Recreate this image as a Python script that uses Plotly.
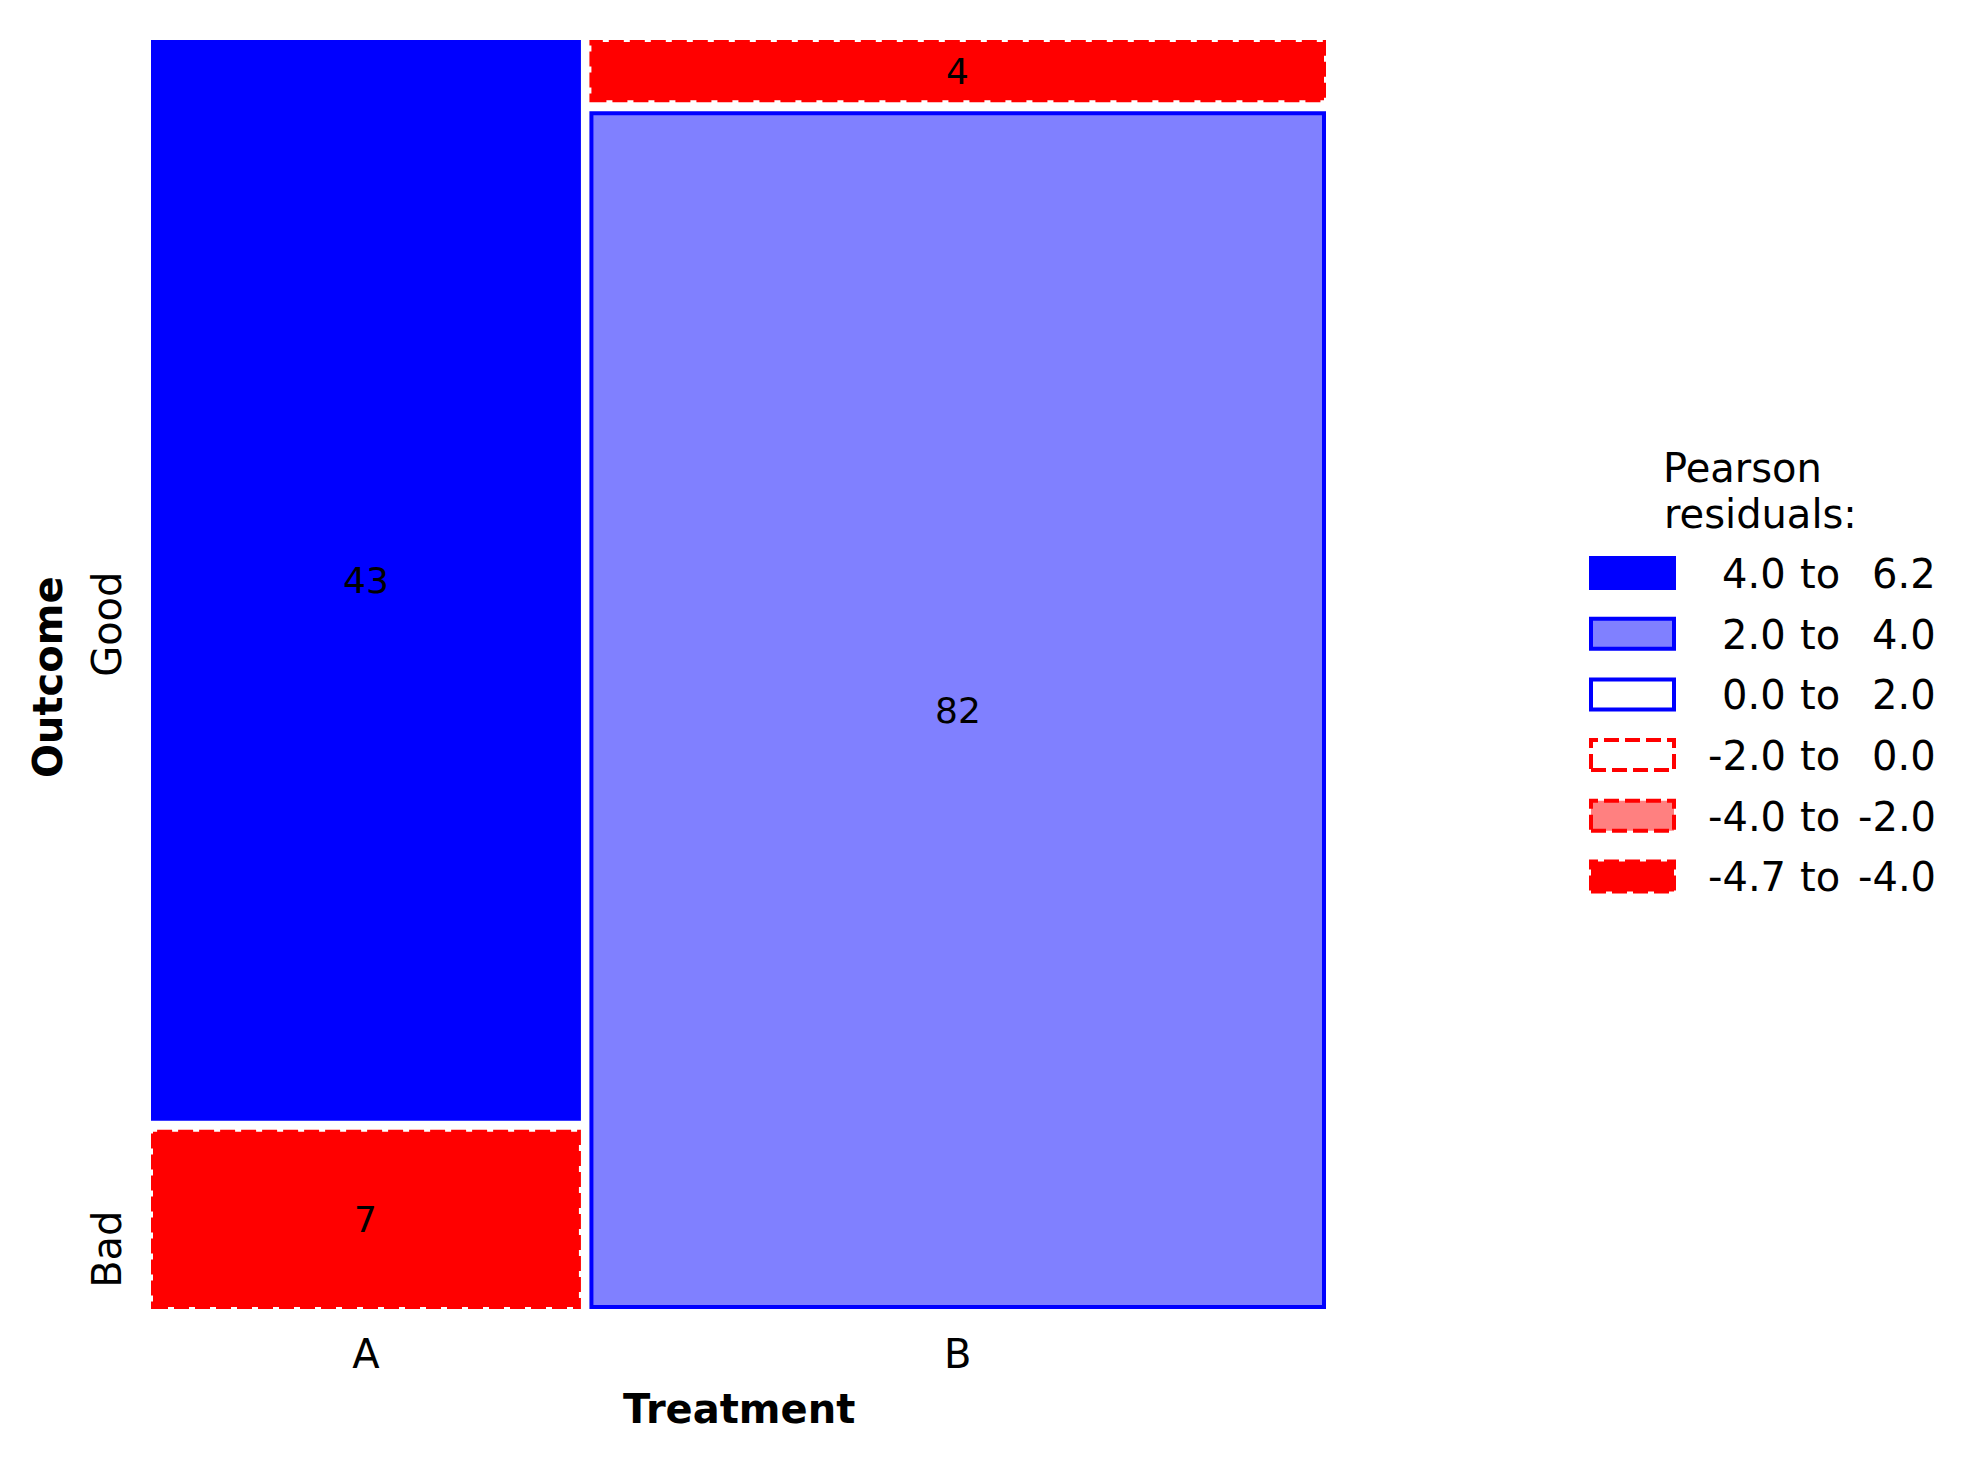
import math
import plotly.graph_objects as go

# ---------------- data ----------------
treatments = ["A", "B"]
outcomes = ["Good", "Bad"]          # top to bottom within each column
counts_good = [43, 4]
counts_bad = [7, 82]

x_title = "Treatment"
y_title = "Outcome"
legend_title_lines = ["Pearson", "residuals:"]
inner_breaks = [-4.0, -2.0, 0.0, 2.0, 4.0]

# ---------------- styles ----------------
FONT = "DejaVu Sans, Verdana, sans-serif"
BLUE, LBLUE, RED, LRED, WHITE = "#0000FF", "#8080FF", "#FF0000", "#FF8080", "#FFFFFF"
# bin index 0 (lowest) .. 5 (highest)
bin_fill = [RED, LRED, WHITE, WHITE, LBLUE, BLUE]
bin_line = [RED, RED, RED, BLUE, BLUE, BLUE]
bin_dash = ["15px,6px"] * 3 + ["solid"] * 3
LW = 4

# pixel layout
W, H = 1984, 1462
PL, PR, PT, PB = 147, 1330, 36, 1313
PW, PH = PR - PL, PB - PT
CW, CH = 1171, 1265              # content span (px)
pad_x, pad_y = 6 / CW, 6 / CH
gx, gy = 12.5 / CW, 13 / CH


def pxx(px):
    return (px - PL) / PW


def pxy(py):
    return (PB - py) / PH


# ---------------- residuals ----------------
table = [[counts_good[j], counts_bad[j]] for j in range(len(treatments))]  # col j, row i
col_tot = [sum(c) for c in table]
row_tot = [sum(table[j][i] for j in range(len(treatments))) for i in range(len(outcomes))]
N = sum(col_tot)
resid = [[(table[j][i] - col_tot[j] * row_tot[i] / N) / math.sqrt(col_tot[j] * row_tot[i] / N)
          for i in range(len(outcomes))] for j in range(len(treatments))]
rmin = min(min(r) for r in resid)
rmax = max(max(r) for r in resid)
breaks = [rmin] + inner_breaks + [rmax]


def bin_of(r):
    for k in range(len(breaks) - 1):
        if r <= breaks[k + 1]:
            return k
    return len(breaks) - 2


shapes, annotations = [], []
tickvals = []

# ---------------- mosaic cells ----------------
avail_w = 1 - gx * (len(treatments) - 1)
avail_h = 1 - gy * (len(outcomes) - 1)
x0 = 0.0
ycenters_first = []
for j, t in enumerate(treatments):
    w = avail_w * col_tot[j] / N
    x1 = x0 + w
    tickvals.append((x0 + x1) / 2)
    ytop = 1.0
    for i, o in enumerate(outcomes):
        h = avail_h * table[j][i] / col_tot[j]
        ybot = ytop - h
        b = bin_of(resid[j][i])
        shapes.append(dict(type="rect", xref="x", yref="y", x0=x0, x1=x1, y0=ybot, y1=ytop,
                           fillcolor=bin_fill[b],
                           line=dict(color=bin_line[b], width=LW, dash=bin_dash[b]),
                           layer="above"))
        annotations.append(dict(xref="x", yref="y", x=(x0 + x1) / 2, y=(ybot + ytop) / 2,
                                text=str(table[j][i]), showarrow=False,
                                font=dict(family=FONT, size=36, color="black")))
        if j == 0:
            ycenters_first.append((ybot + ytop) / 2)
        ytop = ybot - gy
    x0 = x1 + gx

# y tick labels (rotated)
for i, o in enumerate(outcomes):
    annotations.append(dict(xref="paper", yref="y", x=pxx(131), y=ycenters_first[i],
                            xanchor="right", yanchor="top", yshift=9, textangle=-90,
                            text=o, showarrow=False, borderpad=0,
                            font=dict(family=FONT, size=40, color="black")))

# axis titles
annotations.append(dict(xref="paper", yref="paper", x=pxx(72), y=pxy(677), xanchor="right",
                        yanchor="middle", textangle=-90, text="<b>" + y_title + "</b>",
                        showarrow=False, borderpad=0,
                        font=dict(family=FONT, size=40, color="black")))
annotations.append(dict(xref="paper", yref="paper", x=pxx(739), y=pxy(1409), xanchor="center",
                        yanchor="middle", text="<b>" + x_title + "</b>",
                        showarrow=False, borderpad=0,
                        font=dict(family=FONT, size=40, color="black")))

# ---------------- legend ----------------
annotations.append(dict(xref="paper", yref="paper", x=pxx(1662), y=pxy(468), xanchor="left",
                        yanchor="middle", text=legend_title_lines[0], showarrow=False, borderpad=0,
                        font=dict(family=FONT, size=40, color="black")))
annotations.append(dict(xref="paper", yref="paper", x=pxx(1663), y=pxy(514), xanchor="left",
                        yanchor="middle", text=legend_title_lines[1], showarrow=False, borderpad=0,
                        font=dict(family=FONT, size=40, color="black")))
row0, step = 573, 60.7
nb = len(breaks) - 1
for r in range(nb):
    b = nb - 1 - r
    cy = row0 + r * step
    shapes.append(dict(type="rect", xref="paper", yref="paper", x0=pxx(1591), x1=pxx(1674),
                       y0=pxy(cy + 15), y1=pxy(cy - 15), fillcolor=bin_fill[b],
                       line=dict(color=bin_line[b], width=LW, dash=bin_dash[b])))
    lo, hi = "%.1f" % breaks[b], "%.1f" % breaks[b + 1]
    for txt, xp, anc in ((lo, 1787, "right"), ("to", 1820, "center"), (hi, 1937, "right")):
        annotations.append(dict(xref="paper", yref="paper", x=pxx(xp), y=pxy(cy + 1),
                                xanchor=anc, yanchor="middle", text=txt, showarrow=False,
                                borderpad=0, font=dict(family=FONT, size=40, color="black")))

fig = go.Figure()
fig.update_layout(
    width=W, height=H,
    margin=dict(l=PL, r=W - PR, t=PT, b=H - PB, pad=0),
    paper_bgcolor="white", plot_bgcolor="white",
    showlegend=False,
    font=dict(family=FONT, color="black"),
    xaxis=dict(range=[-pad_x, 1 + pad_x], showgrid=False, zeroline=False, showline=False,
               ticks="", tickmode="array", tickvals=tickvals, ticktext=treatments,
               tickfont=dict(family=FONT, size=40, color="black"), ticklabelstandoff=14,
               fixedrange=True),
    yaxis=dict(range=[-pad_y, 1 + pad_y], showgrid=False, zeroline=False, showline=False,
               ticks="", showticklabels=False, fixedrange=True),
    shapes=shapes,
    annotations=annotations,
)
fig.write_html("out.html")
